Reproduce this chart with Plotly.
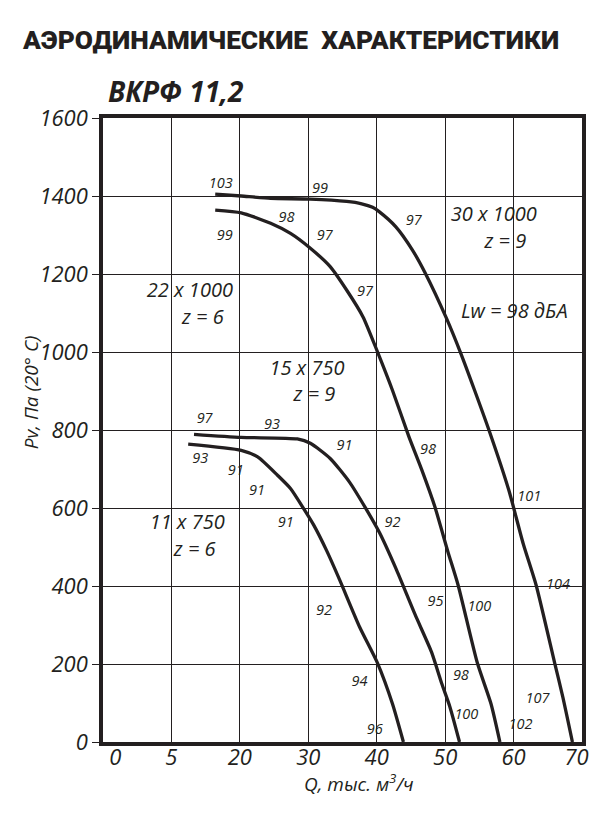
import plotly.graph_objects as go

# Кривые (Q, тыс. м3/ч ; Pv, Па)
q_30x1000 = [16.4, 20.2, 24.5, 30.3, 35.6, 37.8, 39.4, 40.35, 42.8, 45.2, 47.1, 50.2, 52.3, 54.3, 56.4, 59.3, 61.4, 63.3, 66.0, 67.2, 68.6]
p_30x1000 = [1405, 1400, 1394, 1392, 1386, 1380, 1371, 1360, 1321, 1262, 1202, 1086, 996, 902, 800, 646, 509, 402, 203, 115, 0]

q_22x1000 = [16.4, 20.2, 24.5, 27.4, 30.3, 33.2, 35.6, 38.0, 40.1, 42.3, 44.7, 46.6, 48.5, 50.4, 51.9, 54.7, 56.7, 58.0]
p_22x1000 = [1364, 1357, 1330, 1304, 1266, 1219, 1159, 1090, 1001, 902, 783, 697, 603, 488, 402, 203, 98, 0]

q_15x750 = [13.3, 20.2, 28.4, 30.3, 33.2, 36.0, 38.4, 40.4, 42.8, 45.6, 48.0, 49.5, 50.7, 52.1]
p_15x750 = [789, 781, 777, 766, 727, 667, 599, 537, 445, 327, 231, 150, 90, 0]

q_11x750 = [12.45, 20.2, 22.6, 25.5, 27.4, 29.3, 30.8, 32.7, 34.6, 37.5, 40.1, 42.3, 43.9]
p_11x750 = [764, 748, 731, 684, 650, 599, 556, 490, 415, 295, 203, 98, 0]

# Подписи уровней шума у кривых
lbl_text = ["103", "99", "98", "99", "97", "97", "97", "98", "97", "93", "93", "91", "91", "91",
            "91", "92", "92", "101", "104", "95", "100", "94", "98", "107", "100", "102", "96"]
lbl_q = [17.2, 31.7, 26.8, 17.8, 32.4, 45.4, 38.3, 47.5, 14.85, 24.7, 14.2, 19.4, 22.5, 35.3,
         26.7, 42.3, 32.3, 62.3, 66.5, 48.6, 55.0, 37.5, 52.3, 63.5, 53.1, 61.0, 39.7]
lbl_p = [1431, 1417, 1343, 1297, 1297, 1334, 1152, 748, 828, 813, 725, 695, 643, 757,
         560, 560, 334, 626, 402, 359, 345, 152, 167, 109, 68, 43, 30]

# Обозначения кривых
cap_text = ["30 x 1000", "z = 9", "22 x 1000", "z = 6", "15 x 750", "z = 9", "11 x 750", "z = 6", "Lw = 98 дБА"]
cap_q = [57.1, 58.8, 12.7, 14.6, 29.8, 30.9, 12.3, 13.4, 60.1]
cap_p = [1349, 1280, 1153, 1085, 954, 887, 559, 489, 1099]

# Оси
x_grid = [0, 10, 20, 30, 40, 50, 60, 70]
x_lbl_pos = [1.8, 10, 20, 30, 40, 50, 60, 69.2]
x_lbl_text = ["0", "5", "20", "30", "40", "50", "60", "70"]
y_ticks = [0, 200, 400, 600, 800, 1000, 1200, 1400, 1600]

ink = '#231f20'
fnt = 'Open Sans'

fig = go.Figure()

for q, p in [(q_30x1000, p_30x1000), (q_22x1000, p_22x1000), (q_15x750, p_15x750), (q_11x750, p_11x750)]:
    fig.add_trace(go.Scatter(x=q, y=p, mode='lines',
                             line=dict(color=ink, width=3.3, shape='spline', smoothing=0.6),
                             showlegend=False, hoverinfo='skip'))

fig.add_trace(go.Scatter(x=lbl_q, y=lbl_p, mode='text', text=lbl_text,
                         textfont=dict(family=fnt, size=14.5, color=ink, style='italic'),
                         showlegend=False, hoverinfo='skip'))

fig.add_trace(go.Scatter(x=cap_q, y=cap_p, mode='text', text=cap_text, xaxis='x2',
                         textfont=dict(family=fnt, size=20, color=ink, style='italic'),
                         showlegend=False, hoverinfo='skip'))

# страница имеет отступ 8px, поэтому фигура чуть меньше окна
fig.update_layout(
    width=588, height=812,
    margin=dict(l=95, r=7, t=110, b=78),
    paper_bgcolor='white', plot_bgcolor='white',
    xaxis=dict(range=[0, 70], tickmode='array', tickvals=x_grid, showticklabels=False,
               showgrid=True, gridcolor=ink, gridwidth=1.4, zeroline=False,
               showline=True, linecolor=ink, linewidth=3.5, mirror=True, ticks=''),
    xaxis2=dict(range=[0, 70], overlaying='x', side='bottom', tickmode='array',
                tickvals=x_lbl_pos, ticktext=x_lbl_text, showgrid=False, zeroline=False,
                showline=False, ticks='',
                tickfont=dict(family=fnt, size=22, color=ink, style='italic')),
    yaxis=dict(range=[0, 1600], tickmode='array', tickvals=y_ticks,
               showgrid=True, gridcolor=ink, gridwidth=1.4, zeroline=False,
               showline=True, linecolor=ink, linewidth=3.5, mirror=True,
               ticks='outside', ticklen=7, tickwidth=1.4, tickcolor=ink,
               tickfont=dict(family=fnt, size=22, color=ink, style='italic')),
)

fig.add_annotation(text='АЭРОДИНАМИЧЕСКИЕ  ХАРАКТЕРИСТИКИ', xref='paper', yref='paper',
                   x=-0.174, y=1.1256, xanchor='left', yanchor='middle', showarrow=False,
                   font=dict(family='Roboto', size=26.3, color=ink, weight=900))
fig.add_annotation(text='ВКРФ 11,2', xref='paper', yref='paper',
                   x=0.006, y=1.044, xanchor='left', yanchor='middle', showarrow=False,
                   font=dict(family=fnt, size=28, color=ink, weight='bold', style='italic'))
fig.add_annotation(text='Pv, Па (20° С)', xref='paper', yref='paper', textangle=-90,
                   x=-0.151, y=0.56, xanchor='center', yanchor='middle', showarrow=False,
                   font=dict(family=fnt, size=19, color=ink, style='italic'))
fig.add_annotation(text='Q, тыс. м<sup>3</sup>/ч', xref='paper', yref='paper',
                   x=0.535, y=-0.065, xanchor='center', yanchor='middle', showarrow=False,
                   font=dict(family=fnt, size=19, color=ink, style='italic'))

fig.write_html("out.html")
